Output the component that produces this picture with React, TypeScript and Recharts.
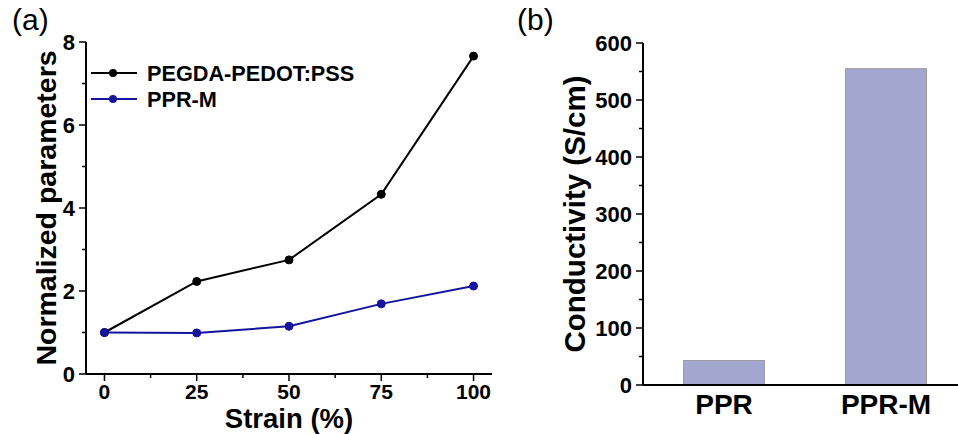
import { LineChart, Line, BarChart, Bar, XAxis, YAxis } from 'recharts';

const FONT = '"Liberation Sans", Arial, Helvetica, sans-serif';

// (a) normalized parameters vs strain
const strain = [0, 25, 50, 75, 100];
const pegdaPedotPss = [1.0, 2.23, 2.75, 4.33, 7.66];
const pprM = [1.0, 0.99, 1.15, 1.69, 2.12];
const strainTicks = [0, 12.5, 25, 37.5, 50, 62.5, 75, 87.5, 100];
const strainMajor = [0, 25, 50, 75, 100];
const normTicks = [0, 1, 2, 3, 4, 5, 6, 7, 8];
const normMajor = [0, 2, 4, 6, 8];

// (b) conductivity
const samples = ['PPR', 'PPR-M'];
const conductivity = [43, 555];
const condTicks = [0, 50, 100, 150, 200, 250, 300, 350, 400, 450, 500, 550, 600];
const condMajor = [0, 100, 200, 300, 400, 500, 600];

const series = [
  { key: 'pegda', name: 'PEGDA-PEDOT:PSS', color: '#000000' },
  { key: 'pprm', name: 'PPR-M', color: '#14149e' },
];

const lineData = strain.map((s, i) => ({ strain: s, pegda: pegdaPedotPss[i], pprm: pprM[i] }));
const barData = samples.map((s, i) => ({ sample: s, value: conductivity[i] }));

const axisLine = { stroke: '#000', strokeWidth: 2 };

function LeftTick(props: any) {
  const { x, y, payload, majors } = props;
  const major = majors.includes(payload.value);
  return (
    <g>
      <line x1={x} x2={x - (major ? 7 : 4)} y1={y} y2={y} stroke="#000" strokeWidth={1.5} />
      {major && (
        <text x={x - 11} y={y} dy="0.36em" textAnchor="end" fontFamily={FONT} fontWeight="bold" fontSize={22} fill="#000">
          {payload.value}
        </text>
      )}
    </g>
  );
}

function BottomTick(props: any) {
  const { x, y, payload, majors } = props;
  const major = majors.includes(payload.value);
  return (
    <g>
      <line x1={x} x2={x} y1={y} y2={y + (major ? 7 : 4)} stroke="#000" strokeWidth={1.5} />
      {major && (
        <text x={x} y={y + 25} textAnchor="middle" fontFamily={FONT} fontWeight="bold" fontSize={21} fill="#000">
          {payload.value}
        </text>
      )}
    </g>
  );
}

function CategoryTick(props: any) {
  const { x, y, payload } = props;
  return (
    <text x={x} y={y + 29} textAnchor="middle" fontFamily={FONT} fontWeight="bold" fontSize={28} fill="#000">
      {payload.value}
    </text>
  );
}

function VerticalTitle(props: any) {
  const { viewBox, text, bx, fallbackY, size } = props;
  const cy = viewBox ? viewBox.y + viewBox.height / 2 : fallbackY;
  return (
    <text transform={`rotate(-90, ${bx}, ${cy})`} x={bx} y={cy} textAnchor="middle" fontFamily={FONT} fontWeight="bold" fontSize={size} fill="#000">
      {text}
    </text>
  );
}

function BottomTitle(props: any) {
  const { viewBox, text } = props;
  const cx = viewBox ? viewBox.x + viewBox.width / 2 : 289;
  const by = viewBox ? viewBox.y + 54 : 428;
  return (
    <text x={cx} y={by} textAnchor="middle" fontFamily={FONT} fontWeight="bold" fontSize={27.5} fill="#000">
      {text}
    </text>
  );
}

function LegendA() {
  return (
    <svg width={320} height={60} style={{ position: 'absolute', left: 86, top: 55 }}>
      {series.map((s, i) => {
        const cy = 18 + i * 26;
        return (
          <g key={s.key}>
            <line x1={5} x2={51} y1={cy} y2={cy} stroke={s.color} strokeWidth={2} />
            <circle cx={27} cy={cy} r={4} fill={s.color} />
            <text x={61} y={cy} dy="0.36em" fontFamily={FONT} fontWeight="bold" fontSize={21.7} fill="#000">
              {s.name}
            </text>
          </g>
        );
      })}
    </svg>
  );
}

function PanelLabel({ text, left }: { text: string; left: number }) {
  return (
    <div style={{ position: 'absolute', left, top: 2, fontFamily: FONT, fontSize: 30, lineHeight: '36px', color: '#000' }}>
      {text}
    </div>
  );
}

export default function App() {
  return (
    <div style={{ position: 'absolute', left: 0, top: 0, width: 958, height: 434, overflow: 'hidden', background: '#fff' }}>
      <div style={{ position: 'absolute', left: 0, top: 0 }}>
        <LineChart width={500} height={434} data={lineData} margin={{ top: 42, right: 8, bottom: 0, left: 0 }}>
          <XAxis
            dataKey="strain"
            type="number"
            domain={[-5, 105]}
            ticks={strainTicks}
            interval={0}
            height={60}
            axisLine={axisLine}
            tickLine={false}
            tickSize={0}
            tickMargin={0}
            tick={(p: any) => <BottomTick {...p} majors={strainMajor} />}
            label={<BottomTitle text="Strain (%)" />}
          />
          <XAxis xAxisId="top" orientation="top" type="number" domain={[-5, 105]} height={0} axisLine={axisLine} tick={false} tickLine={false} />
          <YAxis
            type="number"
            domain={[0, 8]}
            ticks={normTicks}
            interval={0}
            width={86}
            axisLine={axisLine}
            tickLine={false}
            tickSize={0}
            tickMargin={0}
            tick={(p: any) => <LeftTick {...p} majors={normMajor} />}
            label={<VerticalTitle text="Normalized parameters" bx={56} fallbackY={208} size={28.5} />}
          />
          <YAxis yAxisId="right" orientation="right" type="number" domain={[0, 8]} width={0} axisLine={axisLine} tick={false} tickLine={false} />
          {series.map((s) => (
            <Line
              key={s.key}
              type="linear"
              dataKey={s.key}
              name={s.name}
              stroke={s.color}
              strokeWidth={2}
              dot={{ r: 4, fill: s.color, stroke: s.color, strokeWidth: 1 }}
              isAnimationActive={false}
            />
          ))}
        </LineChart>
        <LegendA />
      </div>
      <div style={{ position: 'absolute', left: 500, top: 0 }}>
        <BarChart width={480} height={434} data={barData} margin={{ top: 43, right: 13, bottom: 0, left: 0 }} barCategoryGap="25%">
          <XAxis
            dataKey="sample"
            height={49}
            axisLine={axisLine}
            tickLine={false}
            tickSize={0}
            tickMargin={0}
            interval={0}
            tick={(p: any) => <CategoryTick {...p} />}
          />
          <XAxis xAxisId="top" orientation="top" dataKey="sample" height={0} axisLine={axisLine} tick={false} tickLine={false} />
          <YAxis
            type="number"
            domain={[0, 600]}
            ticks={condTicks}
            interval={0}
            width={143}
            axisLine={axisLine}
            tickLine={false}
            tickSize={0}
            tickMargin={0}
            tick={(p: any) => <LeftTick {...p} majors={condMajor} />}
            label={<VerticalTitle text="Conductivity (S/cm)" bx={85} fallbackY={214} size={29.5} />}
          />
          <Bar dataKey="value" fill="#a3a7cf" stroke="#9c9c9c" strokeWidth={1} isAnimationActive={false} />
        </BarChart>
      </div>
      <PanelLabel text="(a)" left={12} />
      <PanelLabel text="(b)" left={517} />
    </div>
  );
}
